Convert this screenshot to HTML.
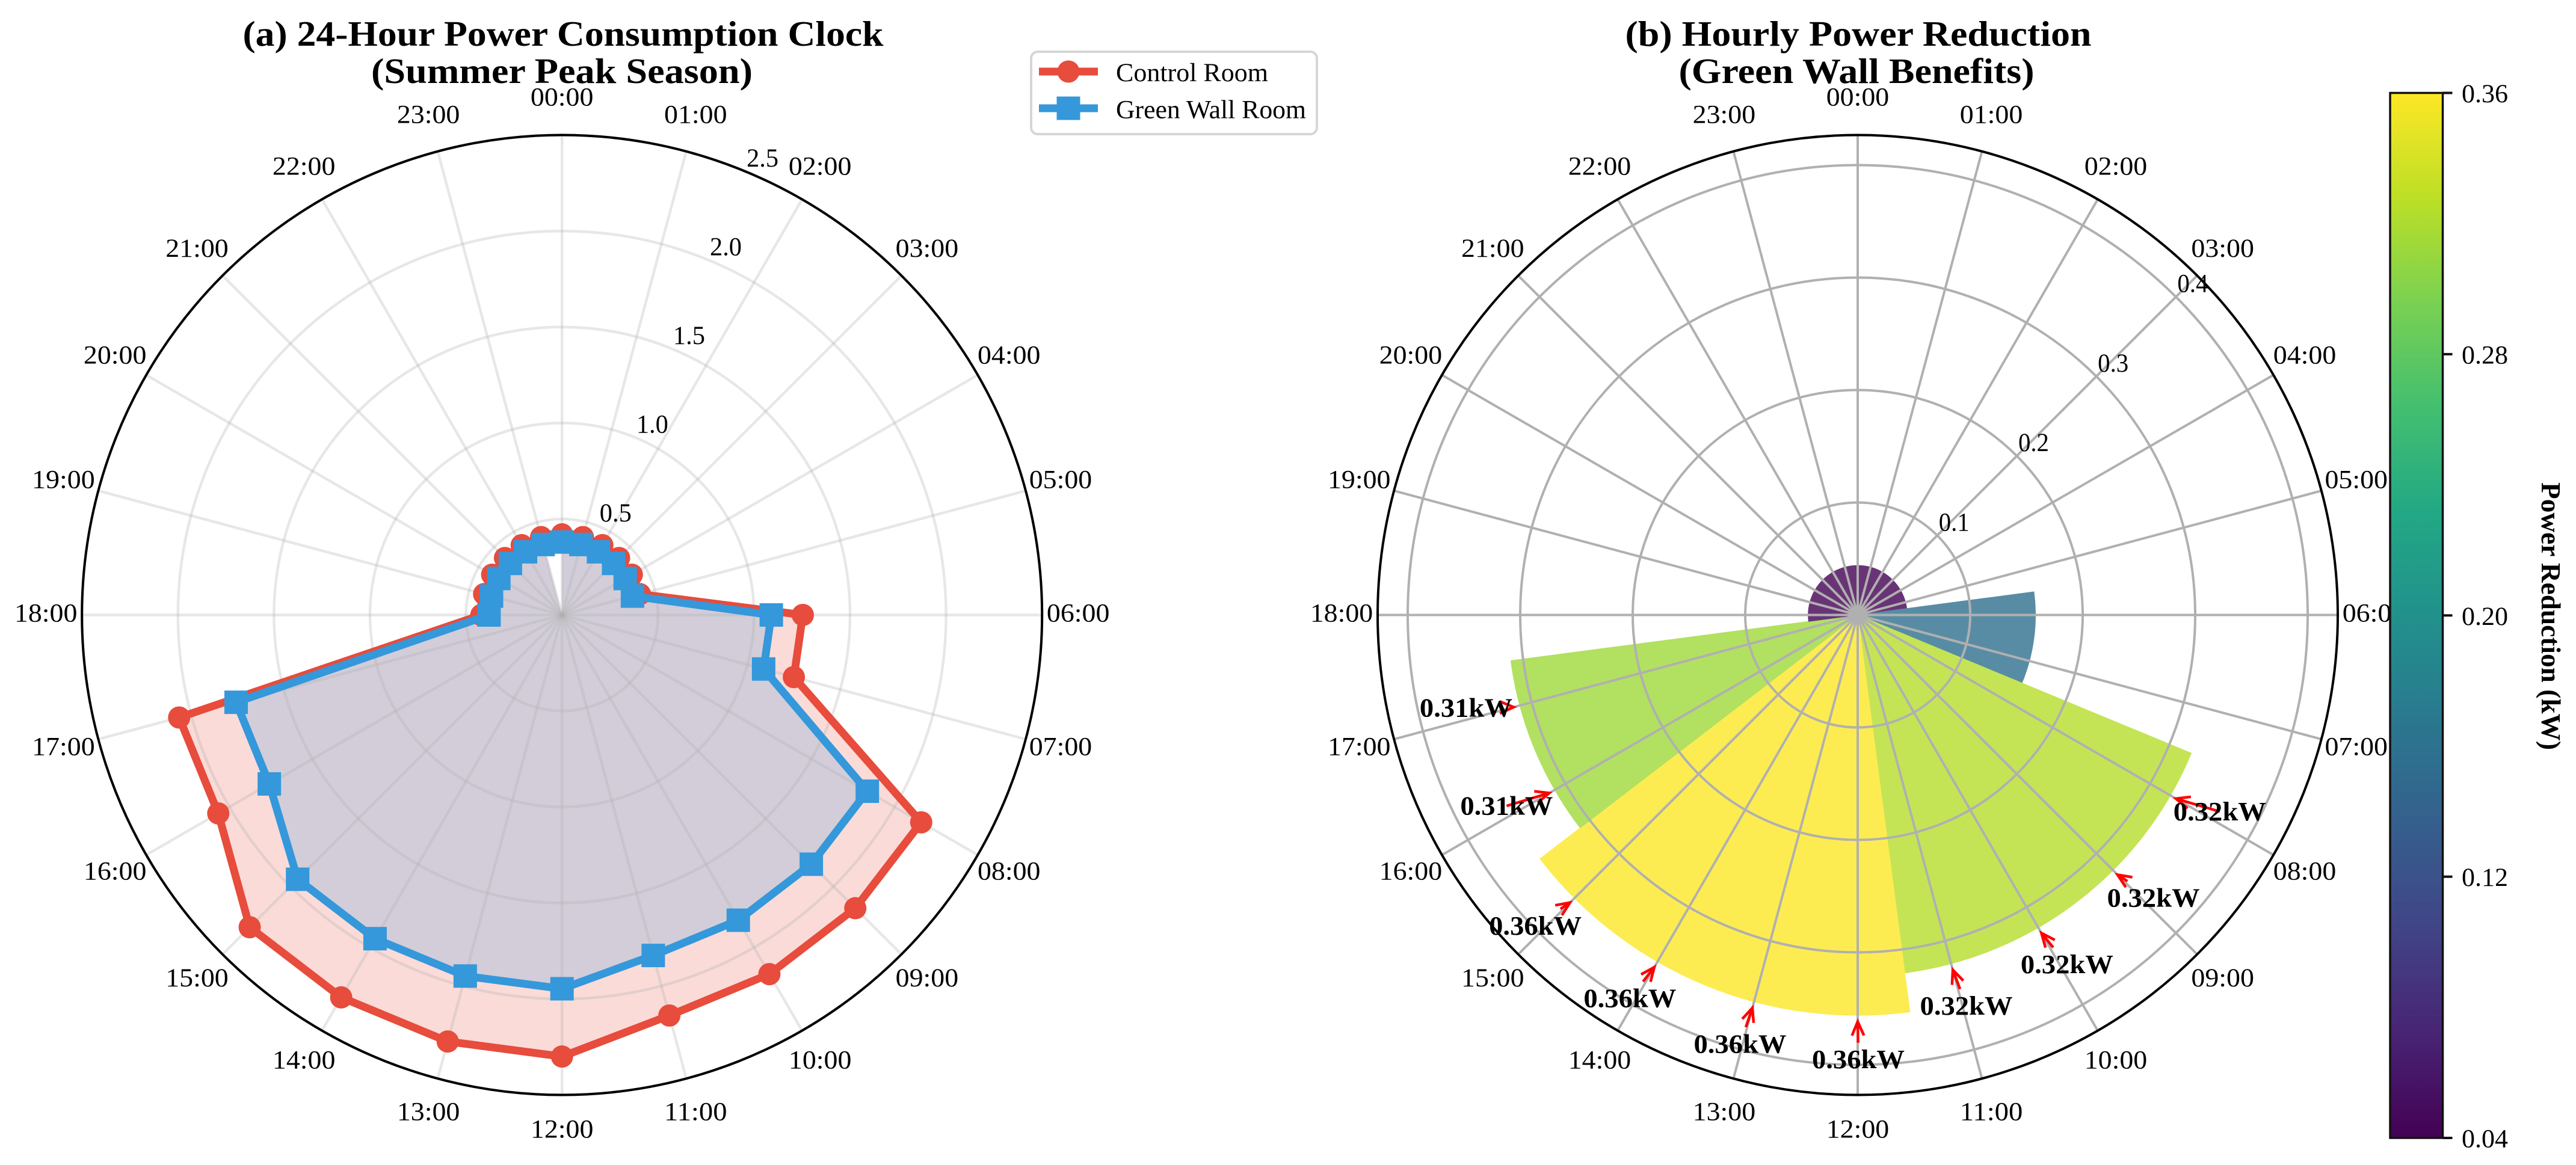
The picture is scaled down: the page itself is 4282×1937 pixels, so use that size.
<!DOCTYPE html>
<html lang="en">
<head>
<meta charset="utf-8">
<title>24-Hour Power Consumption Clock and Hourly Power Reduction</title>
<style>
html,body{margin:0;padding:0;background:#fff;width:4282px;height:1937px;overflow:hidden}
svg{display:block}
text{font-family:"Liberation Serif","DejaVu Serif",serif;fill:#000}
.title{font-size:59px;font-weight:bold;text-anchor:middle}
.legend-text{font-size:43px}
</style>
</head>
<body>
<svg id="figure" xmlns="http://www.w3.org/2000/svg" width="4282" height="1937" viewBox="0 0 4282 1937">
  <rect x="0" y="0" width="4282" height="1937" fill="#fff"/>
  <g id="panel-a"></g>
  <g id="panel-b"></g>
  <g id="colorbar"></g>
  <text class="title" x="936" y="76" textLength="1065" lengthAdjust="spacingAndGlyphs">(a) 24-Hour Power Consumption Clock</text>
  <text class="title" x="934" y="138" textLength="634" lengthAdjust="spacingAndGlyphs">(Summer Peak Season)</text>
  <text class="title" x="3089" y="76" textLength="775" lengthAdjust="spacingAndGlyphs">(b) Hourly Power Reduction</text>
  <text class="title" x="3086" y="138" textLength="591" lengthAdjust="spacingAndGlyphs">(Green Wall Benefits)</text>
  <g>
    <rect x="1714" y="86" width="475" height="137" rx="11" ry="11" fill="#fff" stroke="#d6d6d6" stroke-width="4"/>
    <g>
      <line x1="1727" y1="119" x2="1825" y2="119" stroke="#e74c3c" stroke-width="13"/>
      <circle cx="1776" cy="119" r="18.5" fill="#e74c3c"/>
      <text class="legend-text" x="1855" y="135" textLength="253" lengthAdjust="spacingAndGlyphs">Control Room</text>
    </g>
    <g>
      <line x1="1727" y1="180" x2="1825" y2="180" stroke="#3498db" stroke-width="13"/>
      <rect x="1756.5" y="160.5" width="39" height="39" fill="#3498db"/>
      <text class="legend-text" x="1855" y="196.5" textLength="316" lengthAdjust="spacingAndGlyphs">Green Wall Room</text>
    </g>
  </g>
</svg>
<script>
const hourLabels = ['00:00','01:00','02:00','03:00','04:00','05:00','06:00','07:00','08:00','09:00','10:00','11:00','12:00','13:00','14:00','15:00','16:00','17:00','18:00','19:00','20:00','21:00','22:00','23:00'];
const controlPower = [0.42,0.42,0.42,0.42,0.42,0.42,1.254,1.25,2.16,2.16,2.16,2.16,2.30,2.30,2.30,2.30,2.067,2.064,0.42,0.42,0.42,0.42,0.42,0.42];
const greenWallPower = [0.38,0.38,0.38,0.38,0.38,0.38,1.09,1.087,1.836,1.836,1.836,1.836,1.947,1.947,1.947,1.947,1.76,1.757,0.38,0.38,0.38,0.38,0.38,0.38];
const powerReduction = [0.044,0.044,0.044,0.044,0.044,0.044,0.158,0.158,0.321,0.321,0.321,0.321,0.356,0.356,0.356,0.356,0.311,0.311,0.044,0.044,0.044,0.044,0.044,0.044];
const consumptionTicks = [0.5,1.0,1.5,2.0,2.5];
const reductionTicks = [0.1,0.2,0.3,0.4];
const colorbarTicks = [0.04,0.12,0.20,0.28,0.36];
const annotationThreshold = 0.3;

const NS = 'http://www.w3.org/2000/svg';
const CY = 1022.5;
const R = 798;
const CX_A = 934.2;
const CX_B = 3088;
const PX_PER_KW_A = 319.2;
const PX_PER_KW_B = 1870;
const CB_TOP = 154.5, CB_BOTTOM = 1892, CB_LEFT = 3973, CB_RIGHT = 4060.5, CB_MIN = 0.04, CB_MAX = 0.36;

const viridisStops = ['#440154','#482475','#414487','#355f8d','#2a788e','#21918c','#22a884','#44bf70','#7ad151','#bddf26','#fde725'];

function hexToRgb(h){return [parseInt(h.slice(1,3),16),parseInt(h.slice(3,5),16),parseInt(h.slice(5,7),16)];}
function viridis(t){
  t = Math.max(0,Math.min(1,t));
  const p = t*(viridisStops.length-1), i = Math.min(Math.floor(p),viridisStops.length-2), f = p-i;
  const a = hexToRgb(viridisStops[i]), b = hexToRgb(viridisStops[i+1]);
  return [0,1,2].map(k=>a[k]+(b[k]-a[k])*f);
}
function rgb(c){return 'rgb('+c.map(v=>Math.round(v)).join(',')+')';}
function overWhite(c,alpha){return c.map(v=>v*alpha+255*(1-alpha));}
function hourAngle(h){return h*Math.PI/12;}
function polar(cx,px,h){const a=hourAngle(h);return [cx+px*Math.sin(a),CY-px*Math.cos(a)];}
function el(tag,attrs,parent){
  const e=document.createElementNS(NS,tag);
  for(const k in attrs){e.setAttribute(k,attrs[k]);}
  parent.appendChild(e);
  return e;
}
function drawGrid(parent,cx,ticks,scale,stroke,opacity,width){
  ticks.forEach(function(t){
    const c=el('circle',{cx:cx,cy:CY,r:t*scale,fill:'none',stroke:stroke,'stroke-opacity':opacity,'stroke-width':width},parent);
    
    
  });
  hourLabels.forEach(function(lbl,h){
    const p=polar(cx,R,h);
    const l=el('line',{x1:cx,y1:CY,x2:p[0],y2:p[1],stroke:stroke,'stroke-opacity':opacity,'stroke-width':width},parent);
    
    
  });
}
function drawAxisText(parent,cx,ticks,scale,tickHour,tickWidth){
  hourLabels.forEach(function(lbl,h){
    const p=polar(cx,858,h);
    const t=el('text',{x:p[0],y:p[1]-3+14,'text-anchor':'middle','font-size':43,textLength:104.5,lengthAdjust:'spacingAndGlyphs'},parent);
    
    
    t.textContent=lbl;
  });
  ticks.forEach(function(v){
    const p=polar(cx,v*scale,tickHour);
    const t=el('text',{x:p[0]+28,y:p[1]-22+14,'text-anchor':'middle','font-size':43,textLength:tickWidth,lengthAdjust:'spacingAndGlyphs'},parent);
    
    
    t.textContent=v.toFixed(1);
  });
}
function drawSpine(parent,cx){
  const s=el('circle',{cx:cx,cy:CY,r:R,fill:'none',stroke:'#000','stroke-width':4},parent);
  
  
}

/* Panel (a) */
const panelA=document.getElementById('panel-a');
function fillPoints(values){
  const pts=[[CX_A,CY]];
  values.forEach(function(v,h){pts.push(polar(CX_A,v*PX_PER_KW_A,h));});
  return pts.map(p=>p[0].toFixed(2)+','+p[1].toFixed(2)).join(' ');
}
function linePoints(values){
  const pts=values.map(function(v,h){return polar(CX_A,v*PX_PER_KW_A,h);});
  pts.push(pts[0]);
  return pts.map(p=>p[0].toFixed(2)+','+p[1].toFixed(2)).join(' ');
}
const controlFill=el('polygon',{points:fillPoints(controlPower),fill:'#e74c3c','fill-opacity':0.2},panelA);


const greenFill=el('polygon',{points:fillPoints(greenWallPower),fill:'#3498db','fill-opacity':0.2},panelA);


drawGrid(panelA,CX_A,consumptionTicks,PX_PER_KW_A,'#b0b0b0',0.3,4.5);
const controlLine=el('polyline',{points:linePoints(controlPower),fill:'none',stroke:'#e74c3c','stroke-width':13,'stroke-linejoin':'round'},panelA);


controlPower.forEach(function(v,h){
  const p=polar(CX_A,v*PX_PER_KW_A,h);
  const m=el('circle',{cx:p[0],cy:p[1],r:18.5,fill:'#e74c3c'},panelA);
  
  
});
const greenLine=el('polyline',{points:linePoints(greenWallPower),fill:'none',stroke:'#3498db','stroke-width':13,'stroke-linejoin':'round'},panelA);


greenWallPower.forEach(function(v,h){
  const p=polar(CX_A,v*PX_PER_KW_A,h);
  const m=el('rect',{x:p[0]-19.5,y:p[1]-19.5,width:39,height:39,fill:'#3498db'},panelA);
  
  
});
drawSpine(panelA,CX_A);
drawAxisText(panelA,CX_A,consumptionTicks,PX_PER_KW_A,1.5,53);

/* Panel (b) */
const panelB=document.getElementById('panel-b');
const colorTop=Math.max.apply(null,powerReduction);
const colorBottom=Math.min.apply(null,powerReduction);
powerReduction.forEach(function(v,h){
  const r=v*PX_PER_KW_B;
  const a=polar(CX_B,r,h-0.5), b=polar(CX_B,r,h+0.5);
  const col=rgb(overWhite(viridis((v-colorBottom)/(colorTop-colorBottom)),0.8));
  const d='M'+CX_B+' '+CY+'L'+a[0].toFixed(2)+' '+a[1].toFixed(2)+'A'+r.toFixed(2)+' '+r.toFixed(2)+' 0 0 1 '+b[0].toFixed(2)+' '+b[1].toFixed(2)+'Z';
  const w=el('path',{d:d,fill:col,stroke:col,'stroke-width':1},panelB);
  
  
});
drawGrid(panelB,CX_B,reductionTicks,PX_PER_KW_B,'#b0b0b0',1,4);
drawSpine(panelB,CX_B);
drawAxisText(panelB,CX_B,reductionTicks,PX_PER_KW_B,3,51);

powerReduction.forEach(function(v,h){
  if(v<annotationThreshold){return;}
  const tc=polar(CX_B,(v+0.05)*PX_PER_KW_B,h);
  const cx=tc[0]+1, cy=tc[1]-20;
  const tip=polar(CX_B,v*PX_PER_KW_B+10.5,h);
  const HW=78, HH=28;
  const dx=tip[0]-cx, dy=tip[1]-cy;
  let tx=cx, ty=cy;
  if(Math.abs(dx)>HW||Math.abs(dy)>HH){
    const f=Math.min(dx===0?1:HW/Math.abs(dx),dy===0?1:HH/Math.abs(dy));
    tx=cx+dx*f;
    ty=cy+dy*f;
  }
  const len=Math.hypot(tip[0]-tx,tip[1]-ty)||1;
  const ux=(tip[0]-tx)/len, uy=(tip[1]-ty)/len;
  const b1=[tip[0]-ux*23-uy*10,tip[1]-uy*23+ux*10];
  const b2=[tip[0]-ux*23+uy*10,tip[1]-uy*23-ux*10];
  const d='M'+tx.toFixed(1)+' '+ty.toFixed(1)+'L'+tip[0].toFixed(1)+' '+tip[1].toFixed(1)+'M'+b1[0].toFixed(1)+' '+b1[1].toFixed(1)+'L'+tip[0].toFixed(1)+' '+tip[1].toFixed(1)+'L'+b2[0].toFixed(1)+' '+b2[1].toFixed(1);
  const arrow=el('path',{d:d,fill:'none',stroke:'#ff0000','stroke-width':4.5},panelB);
  
  
  const t=el('text',{x:cx,y:cy+14.5,'text-anchor':'middle','font-size':44,'font-weight':'bold',textLength:154,lengthAdjust:'spacingAndGlyphs'},panelB);
  
  
  t.textContent=v.toFixed(2)+'kW';
});

/* Colorbar */
const cb=document.getElementById('colorbar');
const defs=el('defs',{},cb);
const grad=el('linearGradient',{id:'viridis-gradient',x1:0,y1:1,x2:0,y2:0},defs);
viridisStops.forEach(function(c,i){
  el('stop',{offset:i/(viridisStops.length-1),'stop-color':c},grad);
});
const cbRect=el('rect',{x:CB_LEFT,y:CB_TOP,width:CB_RIGHT-CB_LEFT,height:CB_BOTTOM-CB_TOP,fill:'url(#viridis-gradient)',stroke:'#111','stroke-width':3.5},cb);


function cbY(v){return CB_BOTTOM-(v-CB_MIN)/(CB_MAX-CB_MIN)*(CB_BOTTOM-CB_TOP);}
colorbarTicks.forEach(function(v){
  const y=cbY(v);
  const tick=el('line',{x1:CB_RIGHT,y1:y,x2:CB_RIGHT+16,y2:y,stroke:'#111','stroke-width':4},cb);
  
  
  const t=el('text',{x:4092,y:y+15.5,'font-size':43,textLength:77,lengthAdjust:'spacingAndGlyphs'},cb);
  
  
  t.textContent=v.toFixed(2);
});
const cbTitle=el('text',{x:0,y:0,transform:'translate(4225,1024.5) rotate(90)','text-anchor':'middle','font-size':46,'font-weight':'bold',textLength:445,lengthAdjust:'spacingAndGlyphs'},cb);


cbTitle.textContent='Power Reduction (kW)';
</script>
</body>
</html>
